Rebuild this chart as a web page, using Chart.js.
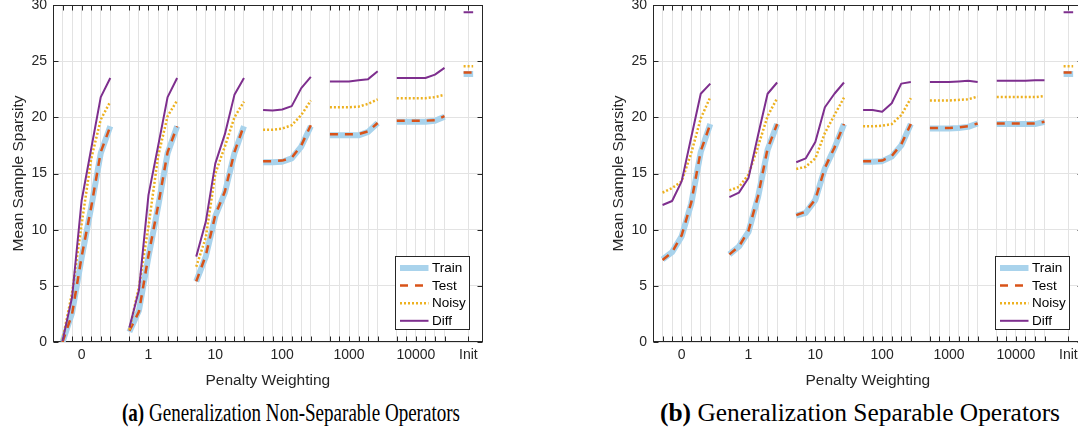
<!DOCTYPE html>
<html>
<head>
<meta charset="utf-8">
<script src="https://cdn.jsdelivr.net/npm/chart.js@4.4.1/dist/chart.umd.min.js"></script>
<style>
  body { margin: 0; width: 1078px; height: 435px; overflow: hidden; background: #fff; position: relative; }
  .panel { position: absolute; top: 0; width: 540px; height: 395px; }
  .cap { position: absolute; top: 398px; white-space: nowrap; font-family: "Liberation Serif", "DejaVu Serif", serif; font-size: 25px; line-height: 30px; color: #000; transform-origin: 0 0; }
</style>
</head>
<body>
<div class="panel" style="left:0"><canvas id="nonsep" width="540" height="395"></canvas></div>
<div class="panel" style="left:600px"><canvas id="sep" width="540" height="395"></canvas></div>
<div class="cap" id="capA" data-left="122" data-right="460"><b>(a)</b> Generalization Non-Separable Operators</div>
<div class="cap" id="capB" data-left="660" data-right="1060"><b>(b)</b> Generalization Separable Operators</div>

<script>
// penalty weightings, 6 runs per weighting, last value of each series is "Init"
let weights = ["0", "1", "10", "100", "1000", "10000"];
let initLabel = "Init";
let perGroup = 6;
let seriesNames = ["Train", "Test", "Noisy", "Diff"];

// (a) non-separable operators
let nonSepTrain = [
  0.0, 2.6, 7.5, 12.0, 16.8, 19.2,
  0.9, 2.8, 7.6, 12.0, 16.8, 19.2,
  5.4, 7.6, 11.2, 13.3, 16.8, 19.2,
  16.0, 16.0, 16.05, 16.35, 17.4, 19.2,
  18.4, 18.4, 18.4, 18.4, 18.7, 19.5,
  19.6, 19.6, 19.6, 19.6, 19.7, 20.05,
  23.85
];
let nonSepTest = [
  0.0, 2.5, 7.6, 12.0, 16.9, 19.2,
  1.0, 2.7, 7.7, 12.1, 16.9, 19.2,
  5.4, 7.7, 11.3, 13.4, 16.9, 19.3,
  16.1, 16.1, 16.15, 16.4, 17.5, 19.3,
  18.5, 18.5, 18.5, 18.5, 18.75, 19.5,
  19.7, 19.7, 19.7, 19.7, 19.75, 20.1,
  24.0
];
let nonSepNoisy = [
  0.2, 4.4, 10.5, 16.3, 19.8, 21.4,
  1.1, 4.9, 10.3, 16.5, 20.1, 21.5,
  6.7, 9.3, 15.0, 17.4, 20.0, 21.4,
  18.9, 18.9, 19.0, 19.3, 20.2, 21.5,
  20.9, 20.9, 20.9, 20.95, 21.2, 21.6,
  21.7, 21.7, 21.7, 21.7, 21.8, 22.0,
  24.55
];
let nonSepDiff = [
  0.1, 4.0, 12.6, 17.2, 21.8, 23.5,
  1.3, 4.6, 13.1, 17.4, 21.8, 23.5,
  7.6, 10.7, 15.9, 18.5, 22.0, 23.5,
  20.65, 20.6, 20.7, 21.0, 22.6, 23.6,
  23.2, 23.2, 23.2, 23.3, 23.4, 24.1,
  23.5, 23.5, 23.5, 23.5, 23.8, 24.4,
  29.35
];

// (b) separable operators
let sepTrain = [
  7.35, 8.0, 9.4, 12.3, 16.9, 19.4,
  7.8, 8.5, 9.8, 12.9, 17.1, 19.4,
  11.25, 11.5, 12.65, 15.45, 17.25, 19.4,
  16.05, 16.05, 16.1, 16.5, 17.5, 19.4,
  19.0, 19.0, 19.0, 19.05, 19.15, 19.45,
  19.4, 19.4, 19.4, 19.4, 19.4, 19.6,
  23.85
];
let sepTest = [
  7.3, 8.0, 9.5, 12.4, 17.0, 19.4,
  7.8, 8.5, 9.9, 13.0, 17.2, 19.4,
  11.3, 11.6, 12.7, 15.5, 17.3, 19.4,
  16.1, 16.1, 16.15, 16.55, 17.6, 19.4,
  19.05, 19.05, 19.05, 19.1, 19.2, 19.45,
  19.45, 19.45, 19.45, 19.45, 19.45, 19.6,
  24.0
];
let sepNoisy = [
  13.3, 13.7, 14.3, 16.8, 19.9, 21.8,
  13.5, 13.8, 14.9, 17.4, 20.1, 21.7,
  15.4, 15.6, 16.35, 18.6, 20.2, 21.75,
  19.2, 19.2, 19.25, 19.4, 20.2, 21.7,
  21.5, 21.5, 21.5, 21.55, 21.6, 21.85,
  21.8, 21.8, 21.8, 21.8, 21.8, 21.9,
  24.55
];
let sepDiff = [
  12.2, 12.55, 14.3, 18.2, 22.1, 23.0,
  12.9, 13.3, 14.6, 18.4, 22.1, 23.1,
  16.0, 16.35, 17.8, 20.9, 22.1, 23.1,
  20.65, 20.65, 20.5, 21.25, 23.0, 23.15,
  23.15, 23.15, 23.15, 23.2, 23.25, 23.15,
  23.25, 23.25, 23.25, 23.25, 23.3, 23.3,
  29.35
];

let yTicks = [0, 5, 10, 15, 20, 25, 30];

let styles = [
  { color: "#a9d3ec", width: 6, dash: [], order: 4 },
  { color: "#d95319", width: 2.5, dash: [8, 7], order: 3 },
  { color: "#edb120", width: 2.5, dash: [2, 2], order: 2 },
  { color: "#7e2f8e", width: 2, dash: [], order: 1 }
];

let slot = perGroup + 1;
let initX = weights.length * slot;  // Init drawn as a short flat segment

function toPoints(values) {
  let pts = [];
  weights.forEach(function(w, g) {
    for (let i = 0; i < perGroup; i++) {
      pts.push({ x: g * slot + i, y: values[g * perGroup + i] });
    }
    pts.push({ x: g * slot + perGroup, y: null });
  });
  let init = values[values.length - 1];
  pts.push({ x: initX, y: init }, { x: initX + 1, y: init });
  return pts;
}

// every run gets a grid line; group labels sit on the third run
let tickPositions = [];
let tickLabels = {};
weights.forEach(function(w, g) {
  for (let i = 0; i < perGroup; i++) tickPositions.push(g * slot + i);
  tickLabels[g * slot + 2] = w;
});
tickPositions.push(initX + 0.5);
tickLabels[initX + 0.5] = initLabel;

let axisColor = "#262626";
let gridColor = "#e3e3e3";
let fontFamily = "'Liberation Sans', Arial, sans-serif";

let framePlugin = {
  id: "frame",
  beforeDatasetsDraw(chart) {
    let ctx = chart.ctx;
    let a = chart.chartArea;
    ctx.save();
    ctx.strokeStyle = axisColor;
    ctx.lineWidth = 1;
    let l = Math.round(a.left) + 0.5, r = Math.round(a.right) - 0.5;
    let t = Math.round(a.top) + 0.5, b = Math.round(a.bottom) - 0.5;
    ctx.beginPath();
    chart.scales.x.ticks.forEach(function(tk) {
      let px = Math.round(chart.scales.x.getPixelForValue(tk.value)) + 0.5;
      ctx.moveTo(px, b); ctx.lineTo(px, b - 5);
      ctx.moveTo(px, t); ctx.lineTo(px, t + 5);
    });
    chart.scales.y.ticks.forEach(function(tk) {
      let py = Math.round(chart.scales.y.getPixelForValue(tk.value)) + 0.5;
      ctx.moveTo(l, py); ctx.lineTo(l + 5, py);
      ctx.moveTo(r, py); ctx.lineTo(r - 5, py);
    });
    ctx.stroke();
    ctx.strokeRect(l, t, r - l, b - t);
    ctx.restore();
  }
};

let boxLegend = {
  id: "boxLegend",
  afterDatasetsDraw(chart) {
    let ctx = chart.ctx;
    let a = chart.chartArea;
    let w = 74, h = 73;
    let x0 = Math.round(a.right - 13.5 - w) + 0.5;
    let y0 = Math.round(a.bottom - 13 - h) + 0.5;
    ctx.save();
    ctx.fillStyle = "#fff";
    ctx.fillRect(x0, y0, w, h);
    ctx.strokeStyle = axisColor;
    ctx.lineWidth = 1;
    ctx.strokeRect(x0, y0, w, h);
    ctx.font = "13.5px " + fontFamily;
    ctx.textBaseline = "middle";
    chart.data.datasets.forEach(function(ds, i) {
      let y = y0 + 11.5 + i * 17.6;
      ctx.strokeStyle = ds.borderColor;
      ctx.lineWidth = ds.borderWidth;
      ctx.setLineDash(ds.borderDash);
      ctx.beginPath();
      ctx.moveTo(x0 + 4.5, y);
      ctx.lineTo(x0 + 33, y);
      ctx.stroke();
      ctx.setLineDash([]);
      ctx.fillStyle = "#000";
      ctx.fillText(ds.label, x0 + 36.5, y + 0.5);
    });
    ctx.restore();
  }
};

function makeChart(id, series) {
  let ctx = document.getElementById(id).getContext("2d");
  return new Chart(ctx, {
    type: "line",
    data: {
      datasets: series.map(function(values, i) {
        return {
          label: seriesNames[i],
          data: toPoints(values),
          borderColor: styles[i].color,
          backgroundColor: styles[i].color,
          borderWidth: styles[i].width,
          borderDash: styles[i].dash,
          borderJoinStyle: "round",
          order: styles[i].order,
          pointRadius: 0,
          tension: 0,
          fill: false
        };
      })
    },
    options: {
      responsive: false,
      animation: false,
      layout: { padding: { top: 5, left: 0, right: 57.3, bottom: 0 } },
      plugins: { legend: { display: false }, tooltip: { enabled: false } },
      scales: {
        x: {
          type: "linear",
          min: -1,
          max: initX + 2,
          border: { display: false },
          grid: { color: gridColor, drawTicks: false },
          afterBuildTicks: function(scale) {
            scale.ticks = tickPositions.map(function(v) { return { value: v }; });
          },
          afterFit: function(scale) {
            scale.height = 53;
            scale.paddingLeft = 0;
            scale.paddingRight = 0;
          },
          ticks: {
            autoSkip: false,
            maxRotation: 0,
            padding: 5,
            color: axisColor,
            font: { family: fontFamily, size: 14 },
            callback: function(value) { return tickLabels[value] || ""; }
          },
          title: {
            display: true,
            text: "Penalty Weighting",
            color: axisColor,
            padding: { top: 0, bottom: 5 },
            font: { family: fontFamily, size: 15.5 }
          }
        },
        y: {
          min: 0,
          max: 30,
          border: { display: false },
          grid: { color: gridColor, drawTicks: false },
          afterBuildTicks: function(scale) {
            scale.ticks = yTicks.map(function(v) { return { value: v }; });
          },
          afterFit: function(scale) {
            scale.width = 53;
            scale.paddingTop = 0;
            scale.paddingBottom = 0;
          },
          ticks: {
            padding: 6,
            color: axisColor,
            font: { family: fontFamily, size: 14 }
          },
          title: {
            display: true,
            text: "Mean Sample Sparsity",
            color: axisColor,
            padding: { top: 9, bottom: 0 },
            font: { family: fontFamily, size: 15.5 }
          }
        }
      }
    },
    plugins: [framePlugin, boxLegend]
  });
}

makeChart("nonsep", [nonSepTrain, nonSepTest, nonSepNoisy, nonSepDiff]);
makeChart("sep", [sepTrain, sepTest, sepNoisy, sepDiff]);

// fit each caption between its left and right edge
document.querySelectorAll(".cap").forEach(function(el) {
  let left = +el.dataset.left, right = +el.dataset.right;
  let natural = el.getBoundingClientRect().width;
  el.style.left = left + "px";
  el.style.transform = "scaleX(" + ((right - left) / natural) + ")";
});
</script>
</body>
</html>
